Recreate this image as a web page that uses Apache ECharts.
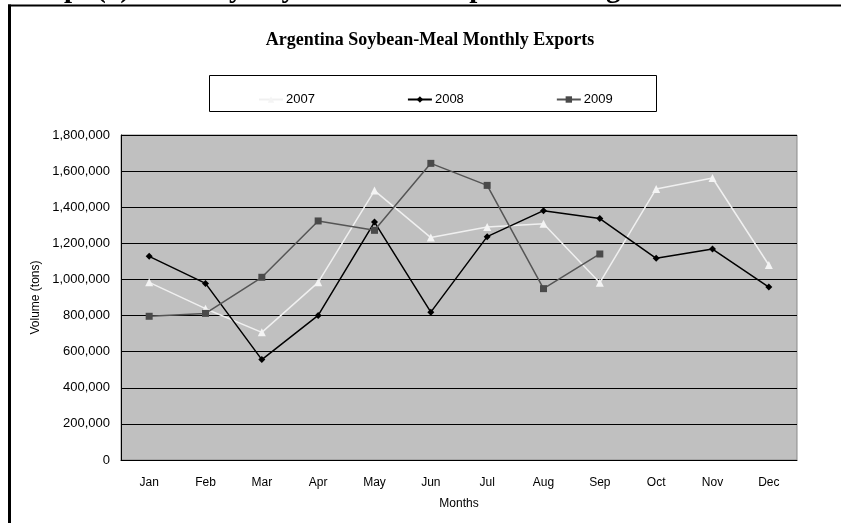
<!DOCTYPE html>
<html>
<head>
<meta charset="utf-8">
<script src="https://cdn.jsdelivr.net/npm/echarts@6/dist/echarts.min.js"></script>
<style>
  html, body { margin: 0; padding: 0; background: #ffffff; }
  #chart { width: 841px; height: 523px; }
</style>
</head>
<body>
<div id="chart"></div>
<script>
// Monthly soybean-meal exports from Argentina, in tons
const months = ['Jan', 'Feb', 'Mar', 'Apr', 'May', 'Jun', 'Jul', 'Aug', 'Sep', 'Oct', 'Nov', 'Dec'];
const seriesNames = ['2007', '2008', '2009'];
const exports2007 = [984000, 838000, 707000, 984000, 1492000, 1232000, 1290000, 1309000, 982000, 1501000, 1562000, 1080000];
const exports2008 = [1128000, 978000, 556000, 801000, 1318000, 819000, 1237000, 1381000, 1337000, 1117000, 1168000, 958000];
const exports2009 = [796000, 812000, 1012000, 1324000, 1272000, 1643000, 1521000, 949000, 1141000, null, null, null];
const yMin = 0;
const yMax = 1800000;
const yStep = 200000;

const headingText = 'Graph(2) Monthly Soybean-Meal Exports of Argentina';
const chartTitle = 'Argentina Soybean-Meal Monthly Exports';
const xAxisTitle = 'Months';
const yAxisTitle = 'Volume (tons)';

const chart = echarts.init(document.getElementById('chart'), null, { renderer: 'canvas' });

const sans = 'Liberation Sans, Arial, sans-serif';
const serif = 'Liberation Serif, Times New Roman, serif';

chart.setOption({
  backgroundColor: '#ffffff',
  animation: false,
  graphic: [
    // document heading, mostly above the top edge
    { type: 'text', x: 14, y: 4, z: 1,
      style: { text: headingText, font: 'bold 29px ' + serif, fill: '#000',
               align: 'left', verticalAlign: 'bottom' } },
    // outer frame of the chart object
    { type: 'line', z: 2, shape: { x1: 8, y1: 5.5, x2: 841, y2: 5.5 }, style: { stroke: '#000', lineWidth: 2 } },
    { type: 'line', z: 2, shape: { x1: 9.5, y1: 4.5, x2: 9.5, y2: 523 }, style: { stroke: '#000', lineWidth: 3 } },
    // white band below the frame's top edge
    { type: 'rect', z: 1.5, shape: { x: 11, y: 6.5, width: 830, height: 20 }, style: { fill: '#fff' } },
    // chart title
    { type: 'text', x: 430, y: 40, z: 3,
      style: { text: chartTitle, font: 'bold 18px ' + serif, fill: '#000', align: 'center', verticalAlign: 'middle' } },
    // legend frame
    { type: 'rect', z: 1, shape: { x: 209.5, y: 75.5, width: 447, height: 36 },
      style: { fill: '#fff', stroke: '#000', lineWidth: 1 } }
  ],
  legend: {
    data: seriesNames,
    left: 253,
    top: 88,
    itemWidth: 24,
    itemHeight: 8,
    itemGap: 92,
    z: 5,
    textStyle: { fontFamily: sans, fontSize: 13, color: '#000', padding: [0, 0, 0, -2] }
  },
  grid: {
    left: 121, top: 135, width: 676, height: 325,
    show: true, backgroundColor: '#c0c0c0', borderColor: '#8a8a8a', borderWidth: 1
  },
  xAxis: {
    type: 'category',
    data: months,
    boundaryGap: true,
    name: xAxisTitle,
    nameLocation: 'middle',
    nameGap: 38,
    nameTextStyle: { fontFamily: sans, fontSize: 12, color: '#000' },
    axisLine: { lineStyle: { color: '#000', width: 1 } },
    axisTick: { inside: true, length: 5, lineStyle: { color: '#000' } },
    axisLabel: { fontFamily: sans, fontSize: 12, color: '#000', margin: 17 },
    splitLine: { show: false }
  },
  yAxis: {
    type: 'value',
    min: yMin, max: yMax, interval: yStep,
    name: yAxisTitle,
    nameLocation: 'middle',
    nameGap: 77,
    nameRotate: 90,
    nameTextStyle: { fontFamily: sans, fontSize: 12, color: '#000' },
    axisLine: { show: true, lineStyle: { color: '#000', width: 1 } },
    axisTick: { show: true, inside: true, length: 4, lineStyle: { color: '#000' } },
    axisLabel: {
      fontFamily: sans, fontSize: 13, color: '#000', margin: 11,
      formatter: v => v.toLocaleString('en-US')
    },
    splitLine: { show: true, lineStyle: { color: '#000', width: 1 } }
  },
  series: [
    {
      name: seriesNames[0], type: 'line', data: exports2007,
      symbol: 'triangle', symbolSize: 8,
      lineStyle: { color: '#f0f0f0', width: 1.5 },
      itemStyle: { color: '#f4f4f4' }
    },
    {
      name: seriesNames[1], type: 'line', data: exports2008,
      symbol: 'diamond', symbolSize: 7,
      lineStyle: { color: '#000', width: 1.5 },
      itemStyle: { color: '#000' }
    },
    {
      name: seriesNames[2], type: 'line', data: exports2009,
      symbol: 'rect', symbolSize: 7,
      connectNulls: false,
      lineStyle: { color: '#555555', width: 1.5 },
      itemStyle: { color: '#4a4a4a' }
    }
  ]
});
</script>
</body>
</html>
